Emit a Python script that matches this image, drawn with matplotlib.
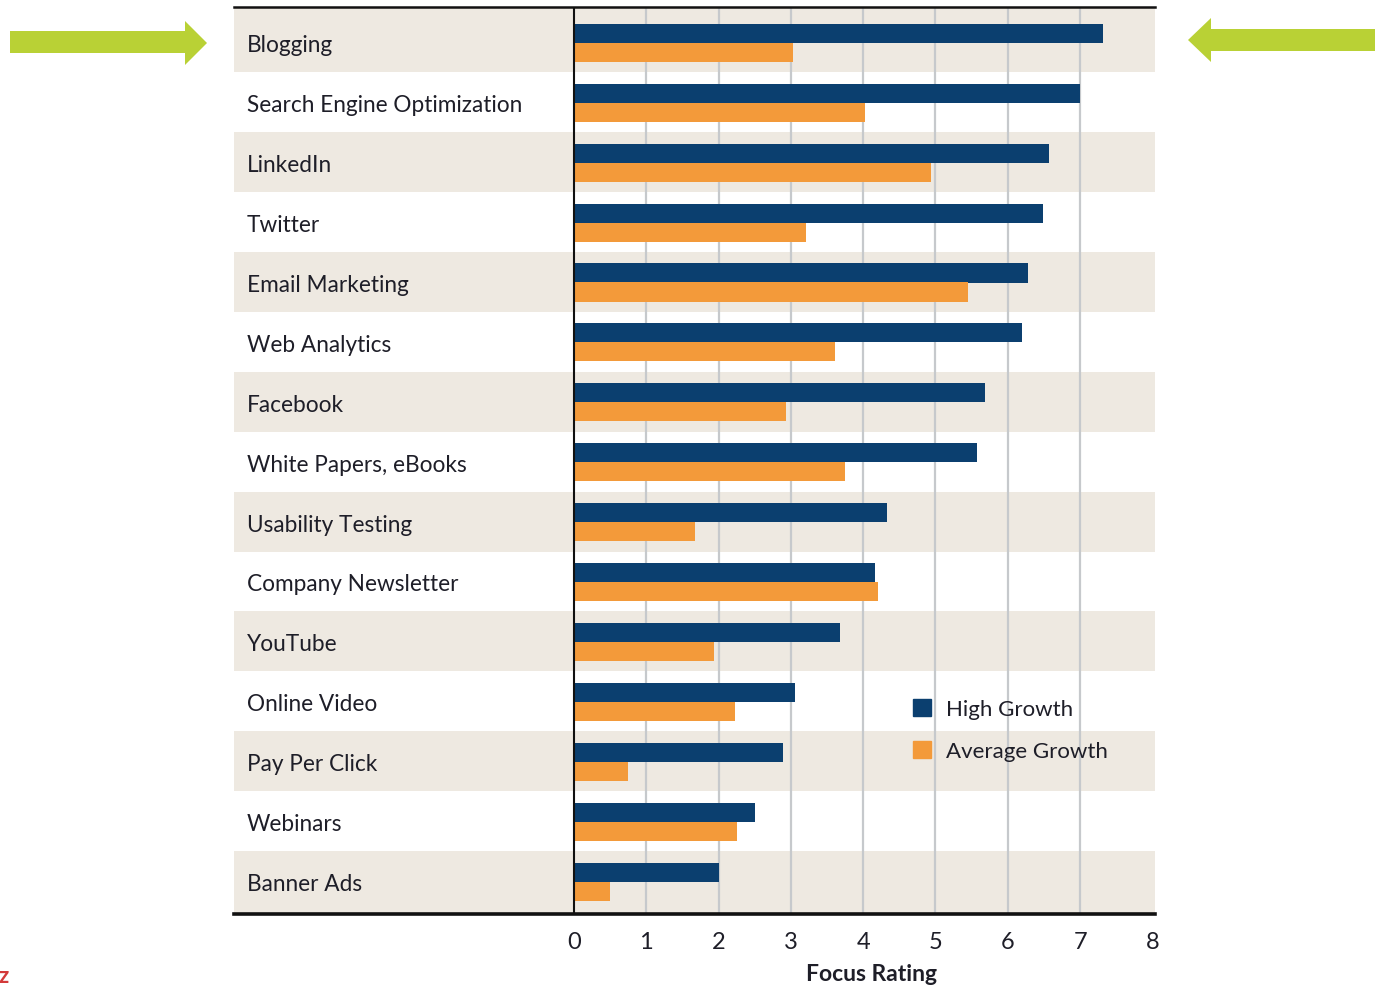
import matplotlib
matplotlib.use("Agg")
import matplotlib.pyplot as plt
from matplotlib.patches import Polygon, Patch

# data
categories = ["Blogging", "Search Engine Optimization", "LinkedIn", "Twitter",
              "Email Marketing", "Web Analytics", "Facebook", "White Papers, eBooks",
              "Usability Testing", "Company Newsletter", "YouTube", "Online Video",
              "Pay Per Click", "Webinars", "Banner Ads"]
high_growth = [7.32, 7.00, 6.57, 6.49, 6.28, 6.20, 5.69, 5.58, 4.33, 4.17, 3.68, 3.05, 2.89, 2.50, 2.00]
avg_growth = [3.03, 4.03, 4.94, 3.21, 5.45, 3.61, 2.93, 3.75, 1.68, 4.21, 1.94, 2.23, 0.74, 2.26, 0.50]
ticks = [0, 1, 2, 3, 4, 5, 6, 7, 8]

NAVY = "#0b3f6f"
ORANGE = "#f39a3a"
BAND = "#eee9e1"
GRID = "#c6c9cc"
GREEN = "#b9d135"
TEXT = "#1e1e28"

plt.rcParams['font.family'] = ['Lato', 'DejaVu Sans']

W, H = 1375, 987
fig = plt.figure(figsize=(W / 100, H / 100), dpi=100)


def px(x, y):
    return (x / W, 1 - y / H)


# axes covers the label area too, so the row bands run under the labels
ax = fig.add_axes([234 / W, 1 - 915 / H, (1155 - 234) / W, (915 - 8) / H])
scale = 72.3  # pixels per unit
ax.set_xlim(-(574 - 234) / scale, (1155 - 574) / scale)
ax.set_ylim(14.57, -0.57)

n = len(categories)
for i in range(0, n, 2):
    lo = i - 0.48 if i > 0 else -1
    hi = i + 0.52 if i < n - 1 else n + 1
    ax.axhspan(lo, hi, color=BAND, lw=0, zorder=0)

ax.vlines(ticks[1:-1], -1, n + 1, color=GRID, lw=1.6, zorder=1)
ax.axvline(0, color="#111111", lw=1.5, zorder=4)

ys = list(range(n))
ax.barh([y - 0.13 for y in ys], high_growth, height=0.318, color=NAVY, zorder=3)
ax.barh([y + 0.187 for y in ys], avg_growth, height=0.318, color=ORANGE, zorder=3)

label_x = (247 - 574) / scale
for y, name in zip(ys, categories):
    ax.text(label_x, y + 0.06, name, ha="left", va="center", fontsize=16.3, color=TEXT)

ax.set_xticks(ticks)
ax.set_xticklabels([str(t) for t in ticks], fontsize=17, color=TEXT)
ax.tick_params(axis="x", length=0, pad=12)
ax.set_yticks([])
for s in ["left", "right"]:
    ax.spines[s].set_visible(False)
ax.spines["top"].set_linewidth(1.8)
ax.spines["bottom"].set_linewidth(2.6)
ax.spines["top"].set_color("#111111")
ax.spines["bottom"].set_color("#111111")
ax.patch.set_alpha(0)

fig.text(871 / W, 1 - 975 / H, "Focus Rating", ha="center", va="center",
         fontsize=16.5, fontweight="bold", color=TEXT)

handles = [Patch(color=NAVY, label="High Growth"), Patch(color=ORANGE, label="Average Growth")]
ax.legend(handles=handles, loc="upper left", bbox_to_anchor=px(904, 691),
          bbox_transform=fig.transFigure, frameon=False, fontsize=16,
          handlelength=0.8, handleheight=0.8, handletextpad=0.7,
          labelspacing=0.97, labelcolor=TEXT, borderaxespad=0)

# green arrows pointing at the top row
left_arrow = [px(10, 32), px(185, 32), px(185, 22), px(207, 44),
              px(185, 66), px(185, 54), px(10, 54)]
right_arrow = [px(1375, 30), px(1211, 30), px(1211, 19), px(1188, 41),
               px(1211, 63), px(1211, 52), px(1375, 52)]
for pts in (left_arrow, right_arrow):
    fig.patches.append(Polygon(pts, closed=True, color=GREEN, lw=0,
                               transform=fig.transFigure))

fig.text(-2 / W, 1 - 977 / H, "z", ha="left", va="center", fontsize=16,
         fontweight="bold", color="#d33a3a")

fig.savefig("out.png", dpi=100)
